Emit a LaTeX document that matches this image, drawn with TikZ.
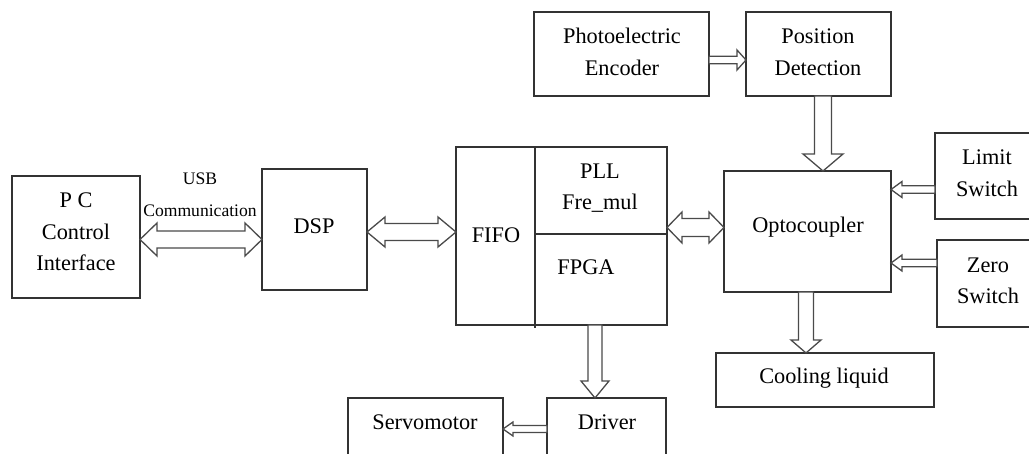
\documentclass[tikz,border=0pt]{standalone}
\usepackage{fontspec}
\setmainfont{Liberation Serif}
\usetikzlibrary{calc}
\definecolor{boxc}{HTML}{333333}
\definecolor{arrc}{HTML}{4A4A4A}
\tikzset{
  blk/.style={draw=boxc, line width=1.2pt, inner sep=0pt, outer sep=0pt, anchor=north west},
  harrow/.style={draw=arrc, line width=1.3pt, fill=white, line join=miter},
  lbl/.style={font=\fontsize{22.3}{31.5}\selectfont, align=center, inner sep=0pt, text=black},
  slbl/.style={font=\fontsize{17.6}{32}\selectfont, align=center, inner sep=0pt, text=black},
}
% double-headed hollow arrow: #1 start, #2 end, #3 shaft half width, #4 head half width, #5 head length
\newcommand{\dblarrow}[5]{%
  \draw[harrow] (#1) -- ($(#1)!#5!(#2)!#4!90:(#2)$) -- ($(#1)!#5!(#2)!#3!90:(#2)$)
    -- ($(#2)!#5!(#1)!#3!90:(#2)$) -- ($(#2)!#5!(#1)!#4!90:(#2)$) -- (#2)
    -- ($(#2)!#5!(#1)!#4!-90:(#2)$) -- ($(#2)!#5!(#1)!#3!-90:(#2)$)
    -- ($(#1)!#5!(#2)!#3!-90:(#2)$) -- ($(#1)!#5!(#2)!#4!-90:(#2)$) -- cycle;}
% single-headed hollow arrow
\newcommand{\sglarrow}[5]{%
  \draw[harrow] ($(#1)!#3!90:(#2)$)
    -- ($(#2)!#5!(#1)!#3!90:(#2)$) -- ($(#2)!#5!(#1)!#4!90:(#2)$) -- (#2)
    -- ($(#2)!#5!(#1)!#4!-90:(#2)$) -- ($(#2)!#5!(#1)!#3!-90:(#2)$)
    -- ($(#1)!#3!-90:(#2)$) -- cycle;}
\begin{document}
\begin{tikzpicture}[x=1pt, y=-1pt]
\useasboundingbox (0,0) rectangle (1029,454);
\begin{scope}
\clip (0,0) rectangle (1029,454);
% boxes
\node[blk, minimum width=128pt, minimum height=122pt] (pc) at (12,176) {};
\node[blk, minimum width=105pt, minimum height=121pt] (dsp) at (262,169) {};
\node[blk, minimum width=211pt, minimum height=178pt] (fpga) at (456,147) {};
\node[blk, minimum width=167pt, minimum height=121pt] (opto) at (724,171) {};
\node[blk, minimum width=110pt, minimum height=86pt] (limit) at (935,133) {};
\node[blk, minimum width=110pt, minimum height=87pt] (zero) at (937,240) {};
\node[blk, minimum width=218pt, minimum height=54pt] (cool) at (716,353) {};
\node[blk, minimum width=175pt, minimum height=84pt] (enc) at (534,12) {};
\node[blk, minimum width=145pt, minimum height=84pt] (pos) at (746,12) {};
\node[blk, minimum width=155pt, minimum height=80pt] (servo) at (348,398) {};
\node[blk, minimum width=119pt, minimum height=80pt] (drv) at (547,398) {};
% FPGA internal dividers
\coordinate (divtop) at (535,147);
\coordinate (divbot) at (535,328);
\coordinate (hdivl) at (535,234);
\draw[boxc, line width=1.2pt] (divtop) -- (divbot);
\draw[boxc, line width=1.2pt] (hdivl) -- (hdivl -| fpga.east);
\draw[boxc, line width=2pt] (fpga.north east) -- (fpga.east |- hdivl);
% labels
\node[lbl] (tpc) at (76,232) {P C\\Control\\Interface};
\node[slbl] (tusb) at (200,195) {USB\\Communication};
\node[lbl] (tdsp) at (314,226) {DSP};
\node[lbl] (tfifo) at (496,235) {FIFO};
\node[lbl] (tpll) at (600,188) {PLL\\Fre\_mul};
\node[lbl] (tfpga) at (586,267) {FPGA};
\node[lbl] (topto) at (808,227) {Optocoupler};
\node[lbl] (tlim) at (987,173) {Limit\\Switch};
\node[lbl] (tzero) at (988,281) {Zero\\Switch};
\node[lbl] (tcool) at (824,378) {Cooling liquid};
\node[lbl] (tenc) at (622,52) {Photoelectric\\Encoder};
\node[lbl] (tpos) at (818,52) {Position\\Detection};
\node[lbl] (tservo) at (425,422) {Servomotor};
\node[lbl] (tdrv) at (607,422) {Driver};
% arrows
\dblarrow{pc.east |- 0,239.5}{dsp.west |- 0,239.5}{8.5pt}{16.5pt}{17pt}
\dblarrow{dsp.east |- 0,232}{fpga.west |- 0,232}{8.5pt}{15pt}{18pt}
\dblarrow{fpga.east |- 0,227.5}{opto.west |- 0,227.5}{9pt}{15.5pt}{15pt}
\sglarrow{enc.east |- 0,60}{pos.west |- 0,60}{3.7pt}{10pt}{9pt}
\sglarrow{pos.south -| 823,0}{opto.north -| 823,0}{8.5pt}{20pt}{17pt}
\sglarrow{limit.west |- 0,189.5}{opto.east |- 0,189.5}{3.7pt}{8pt}{11pt}
\sglarrow{zero.west |- 0,263}{opto.east |- 0,263}{3.7pt}{8pt}{11pt}
\sglarrow{opto.south -| 806,0}{cool.north -| 806,0}{7.5pt}{15pt}{13pt}
\sglarrow{fpga.south -| 595,0}{drv.north -| 595,0}{7pt}{14pt}{17pt}
\sglarrow{drv.west |- 0,429}{servo.east |- 0,429}{3.5pt}{7pt}{10pt}
\end{scope}
\end{tikzpicture}
\end{document}
